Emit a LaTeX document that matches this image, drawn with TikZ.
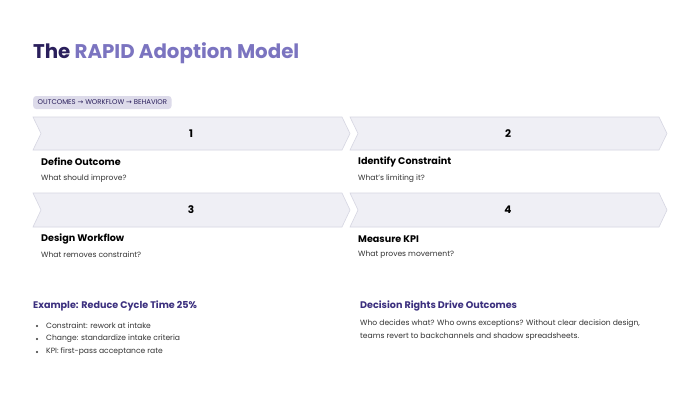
\documentclass[tikz,border=0pt]{standalone}
\usepackage{fontspec}
\setmainfont{Poppins}
\newfontfamily\arrowfont{DejaVu Sans}
\definecolor{darkpurple}{HTML}{2A1F5C}
\definecolor{lightpurple}{HTML}{7B74C0}
\definecolor{headpurple}{HTML}{3B2F7E}
\definecolor{chevfill}{HTML}{EFEFF5}
\definecolor{chevline}{HTML}{D6D6E2}
\definecolor{tagfill}{HTML}{DDDBEA}
\definecolor{bodytext}{HTML}{333333}
\tikzset{
  chev/.style={fill=chevfill, draw=chevline, line width=0.6pt},
  numtxt/.style={font=\fontsize{10.5}{12}\selectfont\bfseries, text=black},
  steptitle/.style={anchor=west, inner sep=0pt, font=\fontsize{9.6}{11}\selectfont\bfseries, text=black},
  stepsub/.style={anchor=west, inner sep=0pt, font=\fontsize{7.6}{9}\selectfont, text=bodytext},
  sechead/.style={anchor=west, inner sep=0pt, font=\fontsize{9.6}{11}\selectfont\bfseries, text=headpurple},
  body/.style={anchor=west, inner sep=0pt, font=\fontsize{7.6}{9}\selectfont, text=bodytext},
}
\begin{document}
\begin{tikzpicture}[x=1pt,y=-1pt]
\useasboundingbox[fill=white] (0,0) rectangle (700,400);
% title
\node[anchor=base west, inner sep=0pt, font=\fontsize{19.8}{22}\selectfont\bfseries] (title) at (33,58)
  {\textcolor{darkpurple}{The} \textcolor{lightpurple}{RAPID Adoption Model}};
% tag
\node[anchor=west, fill=tagfill, rounded corners=3pt, inner xsep=4.5pt, minimum height=13pt, font=\fontsize{6.9}{7}\selectfont, text=darkpurple] (tag) at (33,102.5)
  {OUTCOMES {\arrowfont→} WORKFLOW {\arrowfont→} BEHAVIOR};
% chevrons
\newcommand{\chevron}[4]{% x0, x1(tip), top, bottom
  \path[chev] (#1,#3) -- ({#2-8},#3) -- (#2,{(#3+#4)/2}) -- ({#2-8},#4) -- (#1,#4) -- ({#1+8},{(#3+#4)/2}) -- cycle;}
\chevron{33}{350}{117}{150}
\chevron{350}{667}{117}{150}
\chevron{33}{350}{193}{227}
\chevron{350}{667}{193}{227}
\node[numtxt] (n1) at (191,133.5) {1};
\node[numtxt] (n2) at (508,133.5) {2};
\node[numtxt] (n3) at (191,210) {3};
\node[numtxt] (n4) at (508,210) {4};
% step texts
\node[steptitle] (t1) at (41,162) {Define Outcome};
\node[stepsub] (s1) at (41,179) {What should improve?};
\node[steptitle] (t2) at (358,162) {Identify Constraint};
\node[stepsub] (s2) at (358,179) {What’s limiting it?};
\node[steptitle] (t3) at (41,239) {Design Workflow};
\node[stepsub] (s3) at (41,255) {What removes constraint?};
\node[steptitle] (t4) at (358,239) {Measure KPI};
\node[stepsub] (s4) at (358,255) {What proves movement?};
% example
\node[sechead] (ex) at (33,306) {Example: Reduce Cycle Time 25\%};
\foreach \y/\txt [count=\i] in {326/{Constraint: rework at intake},339/{Change: standardize intake criteria},352/{KPI: first-pass acceptance rate}}{
  \fill[bodytext] (37,\y) circle (1.1pt);
  \node[body] (b\i) at (46,\y) {\txt};
}
% decision rights
\node[sechead] (dr) at (360,306) {Decision Rights Drive Outcomes};
\node[body] (d1) at (360,324) {Who decides what? Who owns exceptions? Without clear decision design,};
\node[body] (d2) at (360,337) {teams revert to backchannels and shadow spreadsheets.};
\end{tikzpicture}
\end{document}
